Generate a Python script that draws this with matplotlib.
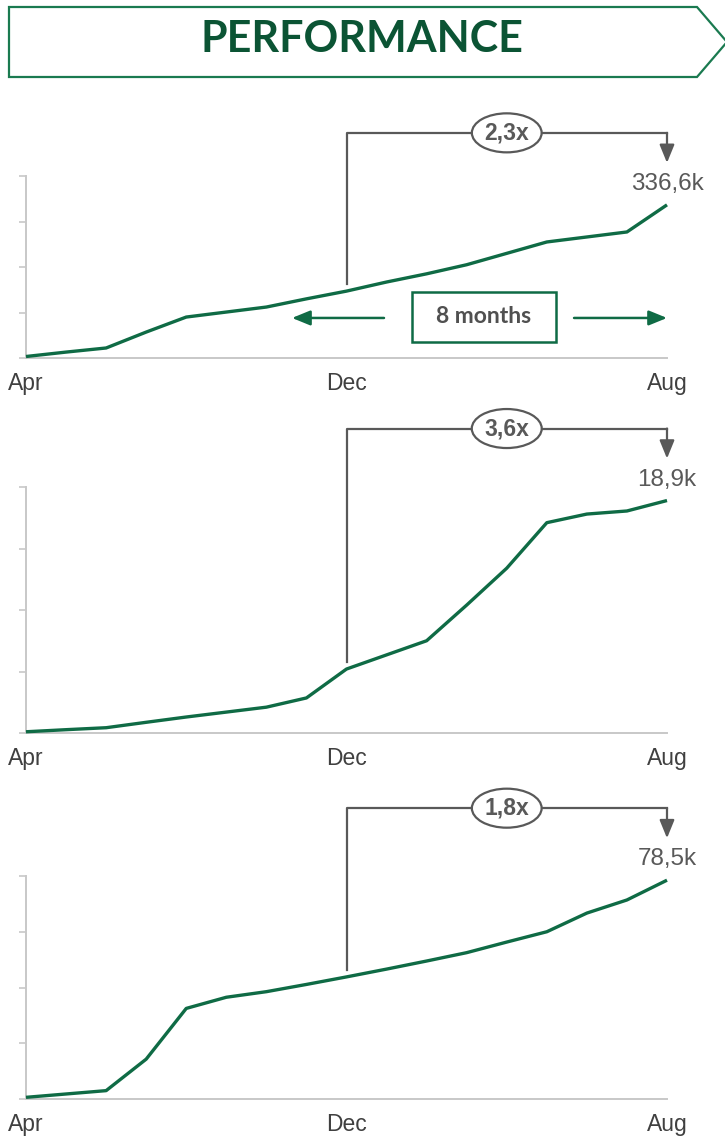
import matplotlib.pyplot as plt
import numpy as np
from matplotlib.patches import Polygon, Rectangle, FancyArrowPatch
from matplotlib.lines import Line2D

# Monthly data, Apr .. Aug of the next year (17 months)
months = ['Apr', 'May', 'Jun', 'Jul', 'Aug', 'Sep', 'Oct', 'Nov', 'Dec',
          'Jan', 'Feb', 'Mar', 'Apr', 'May', 'Jun', 'Jul', 'Aug']
tick_idx = [0, 8, 16]
tick_labels = ['Apr', 'Dec', 'Aug']

series1 = [3.3, 13, 22, 57, 90, 101, 112, 130, 147, 167, 185, 205, 230, 255, 266, 277, 336.6]
series2 = [0.1, 0.27, 0.43, 0.87, 1.3, 1.7, 2.1, 2.85, 5.2, 6.35, 7.5, 10.4, 13.4, 17.1, 17.8, 18.05, 18.9]
series3 = [0.6, 1.8, 3.0, 14.3, 32.5, 36.5, 38.5, 41.1, 43.8, 46.6, 49.5, 52.5, 56.3, 60, 66.7, 71.4, 78.5]

y_max = [400, 20, 80]
y_step = [100, 5, 20]
end_labels = ['336,6k', '18,9k', '78,5k']
growth_labels = ['2,3x', '3,6x', '1,8x']

GREEN = '#0f6b45'
DARK_GREEN = '#0b5434'
GRAY = '#595959'
AXIS_GRAY = '#c8c8c8'
NUM_FONT = ['Liberation Sans', 'DejaVu Sans']

W, H = 725, 1136
fig = plt.figure(figsize=(W / 100, H / 100), dpi=100)


def fpos(x, y):
    # pixel position (from top-left) -> figure fraction
    return x / W, 1 - y / H


# Title banner
banner = [fpos(9, 7), fpos(697, 7), fpos(727, 42), fpos(697, 77), fpos(9, 77)]
fig.add_artist(Polygon(banner, closed=True, fc='white', ec='#1a7a50', lw=1.6,
                       transform=fig.transFigure))
fig.text(*fpos(362, 39), 'PERFORMANCE', ha='center', va='center', fontsize=31,
         fontweight='bold', color=DARK_GREEN, family=['Lato', 'DejaVu Sans'])

# axes placement: (top px, bottom px)
panels = [(176, 358), (487, 733), (876, 1099)]
all_series = [series1, series2, series3]
x = np.arange(len(months))

for k, (top, bottom) in enumerate(panels):
    ax = fig.add_axes([26 / W, 1 - bottom / H, 641 / W, (bottom - top) / H])
    vals = all_series[k]
    ax.plot(x, vals, color=GREEN, lw=2.4, solid_capstyle='butt', clip_on=False, zorder=3)
    ax.set_xlim(0, 16)
    ax.set_ylim(0, y_max[k])
    ax.set_yticks(np.arange(0, y_max[k] + 1, y_step[k]))
    ax.set_yticklabels([])
    ax.set_xticks(tick_idx)
    ax.set_xticklabels(tick_labels, fontsize=16.5, color='#404040', family=NUM_FONT)
    ax.tick_params(axis='x', length=0, pad=10)
    ax.tick_params(axis='y', length=5, width=1.2, color=AXIS_GRAY, direction='out')
    for s in ['top', 'right']:
        ax.spines[s].set_visible(False)
    for s in ['left', 'bottom']:
        ax.spines[s].set_color(AXIS_GRAY)
        ax.spines[s].set_linewidth(1.4)

    def to_fig(xv, yv, dy=0):
        px, py = ax.transData.transform((xv, yv))
        return fig.transFigure.inverted().transform((px, py + dy))

    # end value label
    fig.text(*to_fig(16, vals[16], 21), end_labels[k], ha='center', va='center',
             fontsize=17.5, color=GRAY, family=NUM_FONT)

    # growth bracket from Dec to Aug
    p0 = to_fig(8, vals[8], 7)
    p1 = to_fig(8, vals[16], 72)
    p1 = (p0[0], p1[1])
    p2 = to_fig(16, vals[16], 72)
    p3 = to_fig(16, vals[16], 42)
    fig.add_artist(Line2D([p0[0], p1[0], p2[0]], [p0[1], p1[1], p2[1]],
                          color=GRAY, lw=1.6, transform=fig.transFigure))
    fig.add_artist(FancyArrowPatch(p2, p3, transform=fig.transFigure,
                                   arrowstyle='-|>,head_length=1.1,head_width=0.45',
                                   mutation_scale=10, shrinkA=0, shrinkB=0,
                                   color=GRAY, lw=1.6))
    mid = to_fig(12, vals[16], 72)
    fig.text(mid[0], mid[1], growth_labels[k], ha='center', va='center',
             fontsize=16.5, fontweight='bold', color=GRAY, family=NUM_FONT,
             bbox=dict(boxstyle='ellipse,pad=0.1', fc='white', ec=GRAY, lw=1.6))

    if k == 0:
        # "8 months" box with arrows
        ax.add_patch(Rectangle((0.602, 0.088), 0.2246, 0.2747, transform=ax.transAxes,
                               fc='white', ec=GREEN, lw=1.8, clip_on=False, zorder=4))
        ax.text(0.7146, 0.226, '8 months', transform=ax.transAxes, ha='center',
                va='center', fontsize=16.5, fontweight='bold', color='#505050',
                family=['Lato', 'DejaVu Sans'], zorder=5)
        for a, b in [((0.5585, 0.22), (0.415, 0.22)), ((0.855, 0.22), (1.0, 0.22))]:
            ax.add_patch(FancyArrowPatch(a, b, transform=ax.transAxes,
                                         arrowstyle='-|>,head_length=1.1,head_width=0.45',
                                         mutation_scale=10, shrinkA=0, shrinkB=0,
                                         color=GREEN, lw=1.8, clip_on=False))

fig.savefig('out.png', dpi=100)
